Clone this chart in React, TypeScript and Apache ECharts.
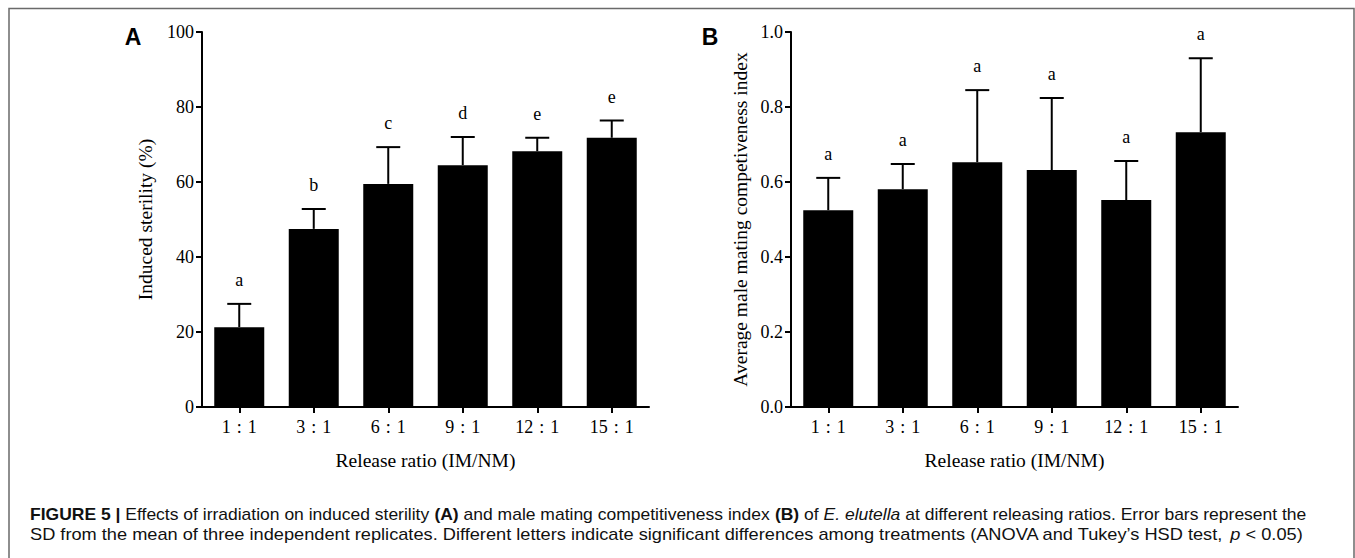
import React, { useEffect, useRef } from "react";
import * as echarts from "echarts";

const categories = ["1\u2004:\u20041", "3\u2004:\u20041", "6\u2004:\u20041", "9\u2004:\u20041", "12\u2004:\u20041", "15\u2004:\u20041"];

const meansA = [21.3, 47.5, 59.5, 64.5, 68.2, 71.8];
const sdA = [6.2, 5.3, 9.8, 7.5, 3.6, 4.6];
const lettersA = ["a", "b", "c", "d", "e", "e"];

const meansB = [0.525, 0.581, 0.653, 0.632, 0.552, 0.733];
const sdB = [0.086, 0.067, 0.192, 0.192, 0.104, 0.197];
const lettersB = ["a", "a", "a", "a", "a", "a"];

const yTitleA = "Induced sterility (%)";
const yTitleB = "Average male mating competiveness index";
const xTitle = "Release ratio (IM/NM)";

const captionLine1: [string, string][] = [
  ["b", "FIGURE 5 |"],
  ["n", " Effects of irradiation on induced sterility "],
  ["b", "(A)"],
  ["n", " and male mating competitiveness index "],
  ["b", "(B)"],
  ["n", " of "],
  ["i", "E. elutella"],
  ["n", " at different releasing ratios. Error bars represent the"],
];
const captionLine2: [string, string][] = [
  ["n", "SD from the mean of three independent replicates. Different letters indicate significant differences among treatments (ANOVA and Tukey\u2019s HSD test, "],
  ["i", "p"],
  ["n", " < 0.05)"],
];

const SERIF = "'Liberation Serif', 'Times New Roman', serif";
const SANS = "'Liberation Sans', Arial, sans-serif";
const CAP_SIZE = 16;
const FS = 18;
const NAME_FS = 19.5;

function fontFor(kind: string) {
  if (kind === "b") return `bold ${CAP_SIZE}px ${SANS}`;
  if (kind === "i") return `italic ${CAP_SIZE}px ${SANS}`;
  return `${CAP_SIZE}px ${SANS}`;
}

function measure(runs: [string, string][]) {
  const c = document.createElement("canvas");
  const ctx = c.getContext("2d");
  if (!ctx) return 1000;
  let w = 0;
  runs.forEach(([k, t]) => {
    ctx.font = fontFor(k);
    w += ctx.measureText(t).width;
  });
  return w;
}

function richText(runs: [string, string][]) {
  return runs.map(([k, t]) => `{${k}|${t}}`).join("");
}

const rich = {
  b: { fontWeight: "bold" as const, fontSize: CAP_SIZE, fontFamily: SANS, fill: "#111" },
  i: { fontStyle: "italic" as const, fontSize: CAP_SIZE, fontFamily: SANS, fill: "#111" },
  n: { fontSize: CAP_SIZE, fontFamily: SANS, fill: "#111" },
};

function makeErrSeries(means: number[], sds: number[], letters: string[], idx: number) {
  return {
    type: "custom",
    xAxisIndex: idx,
    yAxisIndex: idx,
    z: 5,
    encode: { x: 0, y: [1, 2] },
    data: means.map((m, i) => [i, m, m + sds[i]]),
    renderItem: (params: any, api: any) => {
      const i = api.value(0);
      const p0 = api.coord([i, api.value(1)]);
      const p1 = api.coord([i, api.value(2)]);
      return {
        type: "group",
        children: [
          { type: "line", shape: { x1: p0[0], y1: p0[1], x2: p1[0], y2: p1[1] }, style: { stroke: "#000", lineWidth: 2 } },
          { type: "line", shape: { x1: p1[0] - 12, y1: p1[1], x2: p1[0] + 12, y2: p1[1] }, style: { stroke: "#000", lineWidth: 2 } },
          {
            type: "text",
            x: p1[0],
            y: p1[1] - 15,
            style: {
              text: letters[params.dataIndex],
              fontSize: FS,
              fontFamily: SERIF,
              fill: "#000",
              align: "center",
              verticalAlign: "bottom",
            },
          },
        ],
      };
    },
  };
}

function xAxisFor(idx: number) {
  return {
    type: "category",
    gridIndex: idx,
    data: categories,
    axisLine: { show: true, lineStyle: { color: "#000", width: 2 } },
    axisTick: { show: true, alignWithLabel: true, length: 6, lineStyle: { color: "#000", width: 2 } },
    axisLabel: { margin: 11, fontSize: FS, fontFamily: SERIF, color: "#000" },
    name: xTitle,
    nameLocation: "middle",
    nameGap: 43,
    nameTextStyle: { fontSize: NAME_FS, fontFamily: SERIF, color: "#000" },
  };
}

function yAxisFor(idx: number, max: number, interval: number, name: string, gap: number, fmt?: (v: number) => string) {
  return {
    type: "value",
    gridIndex: idx,
    min: 0,
    max,
    interval,
    splitLine: { show: false },
    axisLine: { show: true, lineStyle: { color: "#000", width: 2 } },
    axisTick: { show: true, length: 6, lineStyle: { color: "#000", width: 2 } },
    axisLabel: { margin: 8, fontSize: FS, fontFamily: SERIF, color: "#000", formatter: fmt },
    name,
    nameLocation: "middle",
    nameGap: gap,
    nameTextStyle: { fontSize: NAME_FS, fontFamily: SERIF, color: "#000" },
  };
}

export default function App() {
  const ref = useRef<HTMLDivElement>(null);
  useEffect(() => {
    if (!ref.current) return;
    const chart = echarts.init(ref.current, null, { renderer: "svg" });
    const w1 = measure(captionLine1);
    const w2 = measure(captionLine2);
    const capX = 30;
    const sx1 = (1307 - capX) / w1;
    const sx2 = (1303 - capX) / w2;
    chart.setOption({
      animation: false,
      backgroundColor: "#fff",
      grid: [
        { left: 202, top: 32, width: 447, height: 375 },
        { left: 791, top: 32, width: 447, height: 375 },
      ],
      xAxis: [xAxisFor(0), xAxisFor(1)],
      yAxis: [
        yAxisFor(0, 100, 20, yTitleA, 47),
        yAxisFor(1, 1, 0.2, yTitleB, 41, (v: number) => v.toFixed(1)),
      ],
      series: [
        { type: "bar", xAxisIndex: 0, yAxisIndex: 0, barWidth: 50, itemStyle: { color: "#000" }, data: meansA },
        makeErrSeries(meansA, sdA, lettersA, 0),
        { type: "bar", xAxisIndex: 1, yAxisIndex: 1, barWidth: 50, itemStyle: { color: "#000" }, data: meansB },
        makeErrSeries(meansB, sdB, lettersB, 1),
      ],
      graphic: [
        {
          type: "rect",
          silent: true,
          shape: { x: 9, y: 8.5, width: 1345, height: 620 },
          style: { fill: "none", stroke: "#6a6a6a", lineWidth: 1.5 },
        },
        {
          type: "text",
          x: 133,
          y: 37,
          style: { text: "A", fontSize: 23, fontWeight: "bold", fontFamily: SANS, fill: "#000", align: "center", verticalAlign: "middle" },
        },
        {
          type: "text",
          x: 710,
          y: 37,
          style: { text: "B", fontSize: 23, fontWeight: "bold", fontFamily: SANS, fill: "#000", align: "center", verticalAlign: "middle" },
        },
        {
          type: "text",
          x: capX,
          y: 515,
          scaleX: sx1,
          style: { text: richText(captionLine1), rich, fontSize: CAP_SIZE, fontFamily: SANS, fill: "#111", align: "left", verticalAlign: "middle" },
        },
        {
          type: "text",
          x: capX,
          y: 534,
          scaleX: sx2,
          style: { text: richText(captionLine2), rich, fontSize: CAP_SIZE, fontFamily: SANS, fill: "#111", align: "left", verticalAlign: "middle" },
        },
      ],
    });
    return () => chart.dispose();
  }, []);
  return (
    <div
      ref={ref}
      style={{ position: "fixed", left: 0, top: 0, width: 1355, height: 558, background: "#fff" }}
    />
  );
}
